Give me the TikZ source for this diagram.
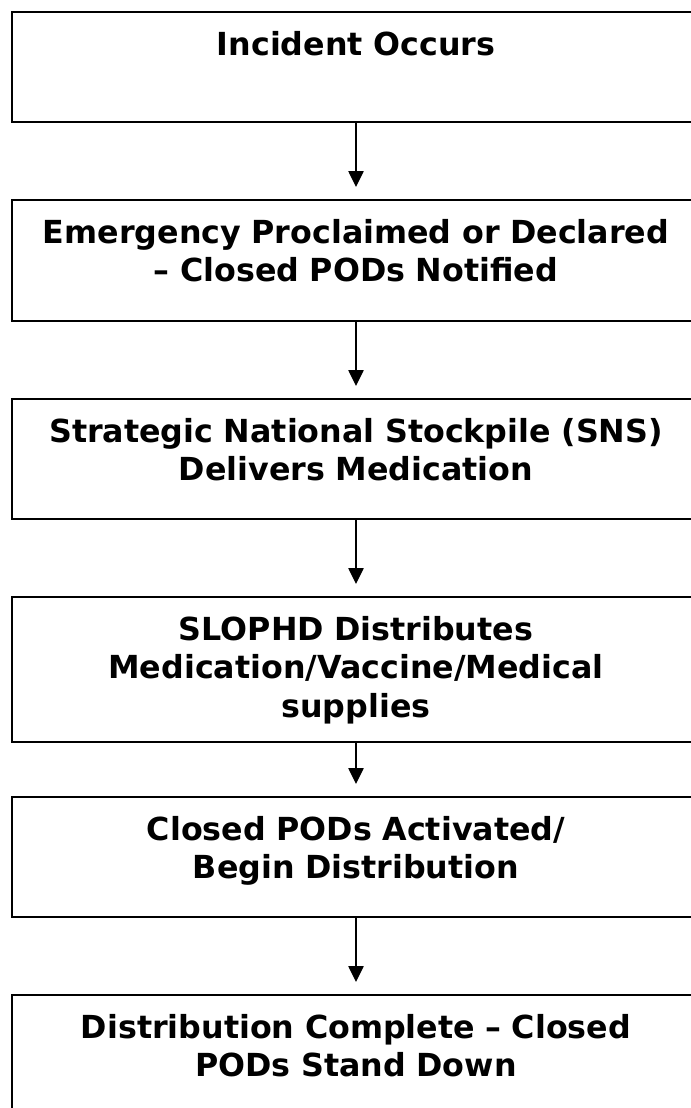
\documentclass[tikz,border=0pt]{standalone}
\usepackage{fontspec}
\setmainfont{DejaVu Sans}
\usetikzlibrary{arrows.meta}

\begin{document}
\begin{tikzpicture}[x=0.75pt, y=-0.75pt,
	stage/.style={draw, line width=1.5pt, anchor=north, inner sep=0pt, outer sep=0pt,
		text width=516pt, align=center, text height=32.25pt,
		font=\bfseries\fontsize{23.8}{28.9}\selectfont},
	flow/.style={-{Triangle[length=12pt, width=11.5pt]}, line width=1.1pt, shorten >=9.75pt}]

	\path[use as bounding box] (0, 0) rectangle (691, 1108);
	\clip (0, 0) rectangle (691, 1108);

	\node[stage, text depth=50.25pt] (occurs) at (356, 12) {Incident Occurs};
	\node[stage, text depth=58.5pt] (declared) at (356, 200) {Emergency Proclaimed or Declared\\– Closed PODs Notified};
	\node[stage, text depth=57.75pt] (sns) at (356, 399) {Strategic National Stockpile (SNS)\\Delivers Medication};
	\node[stage, text depth=76.5pt] (slophd) at (356, 597) {SLOPHD Distributes\\Medication/Vaccine/Medical\\supplies};
	\node[stage, text depth=57.75pt] (activated) at (356, 797) {Closed PODs Activated/\\Begin Distribution};
	\node[stage, text depth=58.5pt] (standdown) at (356, 995) {Distribution Complete – Closed\\PODs Stand Down};

	\draw[flow] (occurs.south) -- (declared.north);
	\draw[flow] (declared.south) -- (sns.north);
	\draw[flow] (sns.south) -- (slophd.north);
	\draw[flow] (slophd.south) -- (activated.north);
	\draw[flow] (activated.south) -- (standdown.north);

\end{tikzpicture}
\end{document}
